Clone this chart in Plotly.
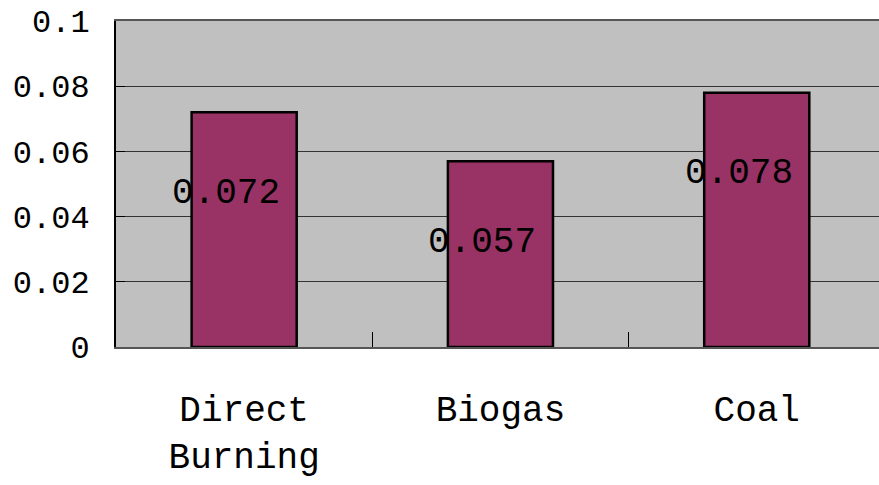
import plotly.graph_objects as go

categories = ["Direct<br>Burning", "Biogas", "Coal"]
values = [0.072, 0.057, 0.078]
value_labels = ["0.072", "0.057", "0.078"]
y_tick_vals = [0, 0.02, 0.04, 0.06, 0.08, 0.1]
y_tick_text = ["0", "0.02", "0.04", "0.06", "0.08", "0.1"]

FONT = "Liberation Mono"

fig = go.Figure()
fig.add_trace(go.Bar(
    x=categories, y=values,
    width=0.41,
    marker=dict(color="#993366", line=dict(color="black", width=2.5)),
    hoverinfo="skip",
))

for c, v, t in zip(categories, values, value_labels):
    fig.add_annotation(x=c, y=v, text=t, showarrow=False,
                       xshift=-18, yshift=-81,
                       font=dict(family=FONT, size=36, color="black"))

fig.update_layout(
    width=879, height=485,
    margin=dict(l=116, r=0, t=21, b=138),
    paper_bgcolor="white",
    plot_bgcolor="#C0C0C0",
    showlegend=False,
)
fig.update_xaxes(
    range=[-0.5, 2.477],
    showline=True, linecolor="#555555", linewidth=2, mirror=True,
    ticks="inside", tickson="boundaries", ticklen=15, tickcolor="black", tickwidth=1,
    ticklabelstandoff=29,
    ticklabeloverflow="allow",
    tickfont=dict(family=FONT, size=36, color="black"),
    showgrid=False,
)
fig.update_yaxes(
    range=[0, 0.1],
    tickvals=y_tick_vals, ticktext=y_tick_text,
    showline=True, linecolor="black", linewidth=2,
    ticks="inside", ticklen=9, tickcolor="black", tickwidth=1,
    showgrid=True, gridcolor="#333333", gridwidth=1,
    ticklabelstandoff=18,
    ticklabeloverflow="allow",
    tickfont=dict(family=FONT, size=32, color="black"),
    zeroline=False,
)

fig.write_html(
    "out.html",
    config={"displayModeBar": False},
    post_script="document.body.style.margin='0';document.body.style.overflow='hidden';",
)
